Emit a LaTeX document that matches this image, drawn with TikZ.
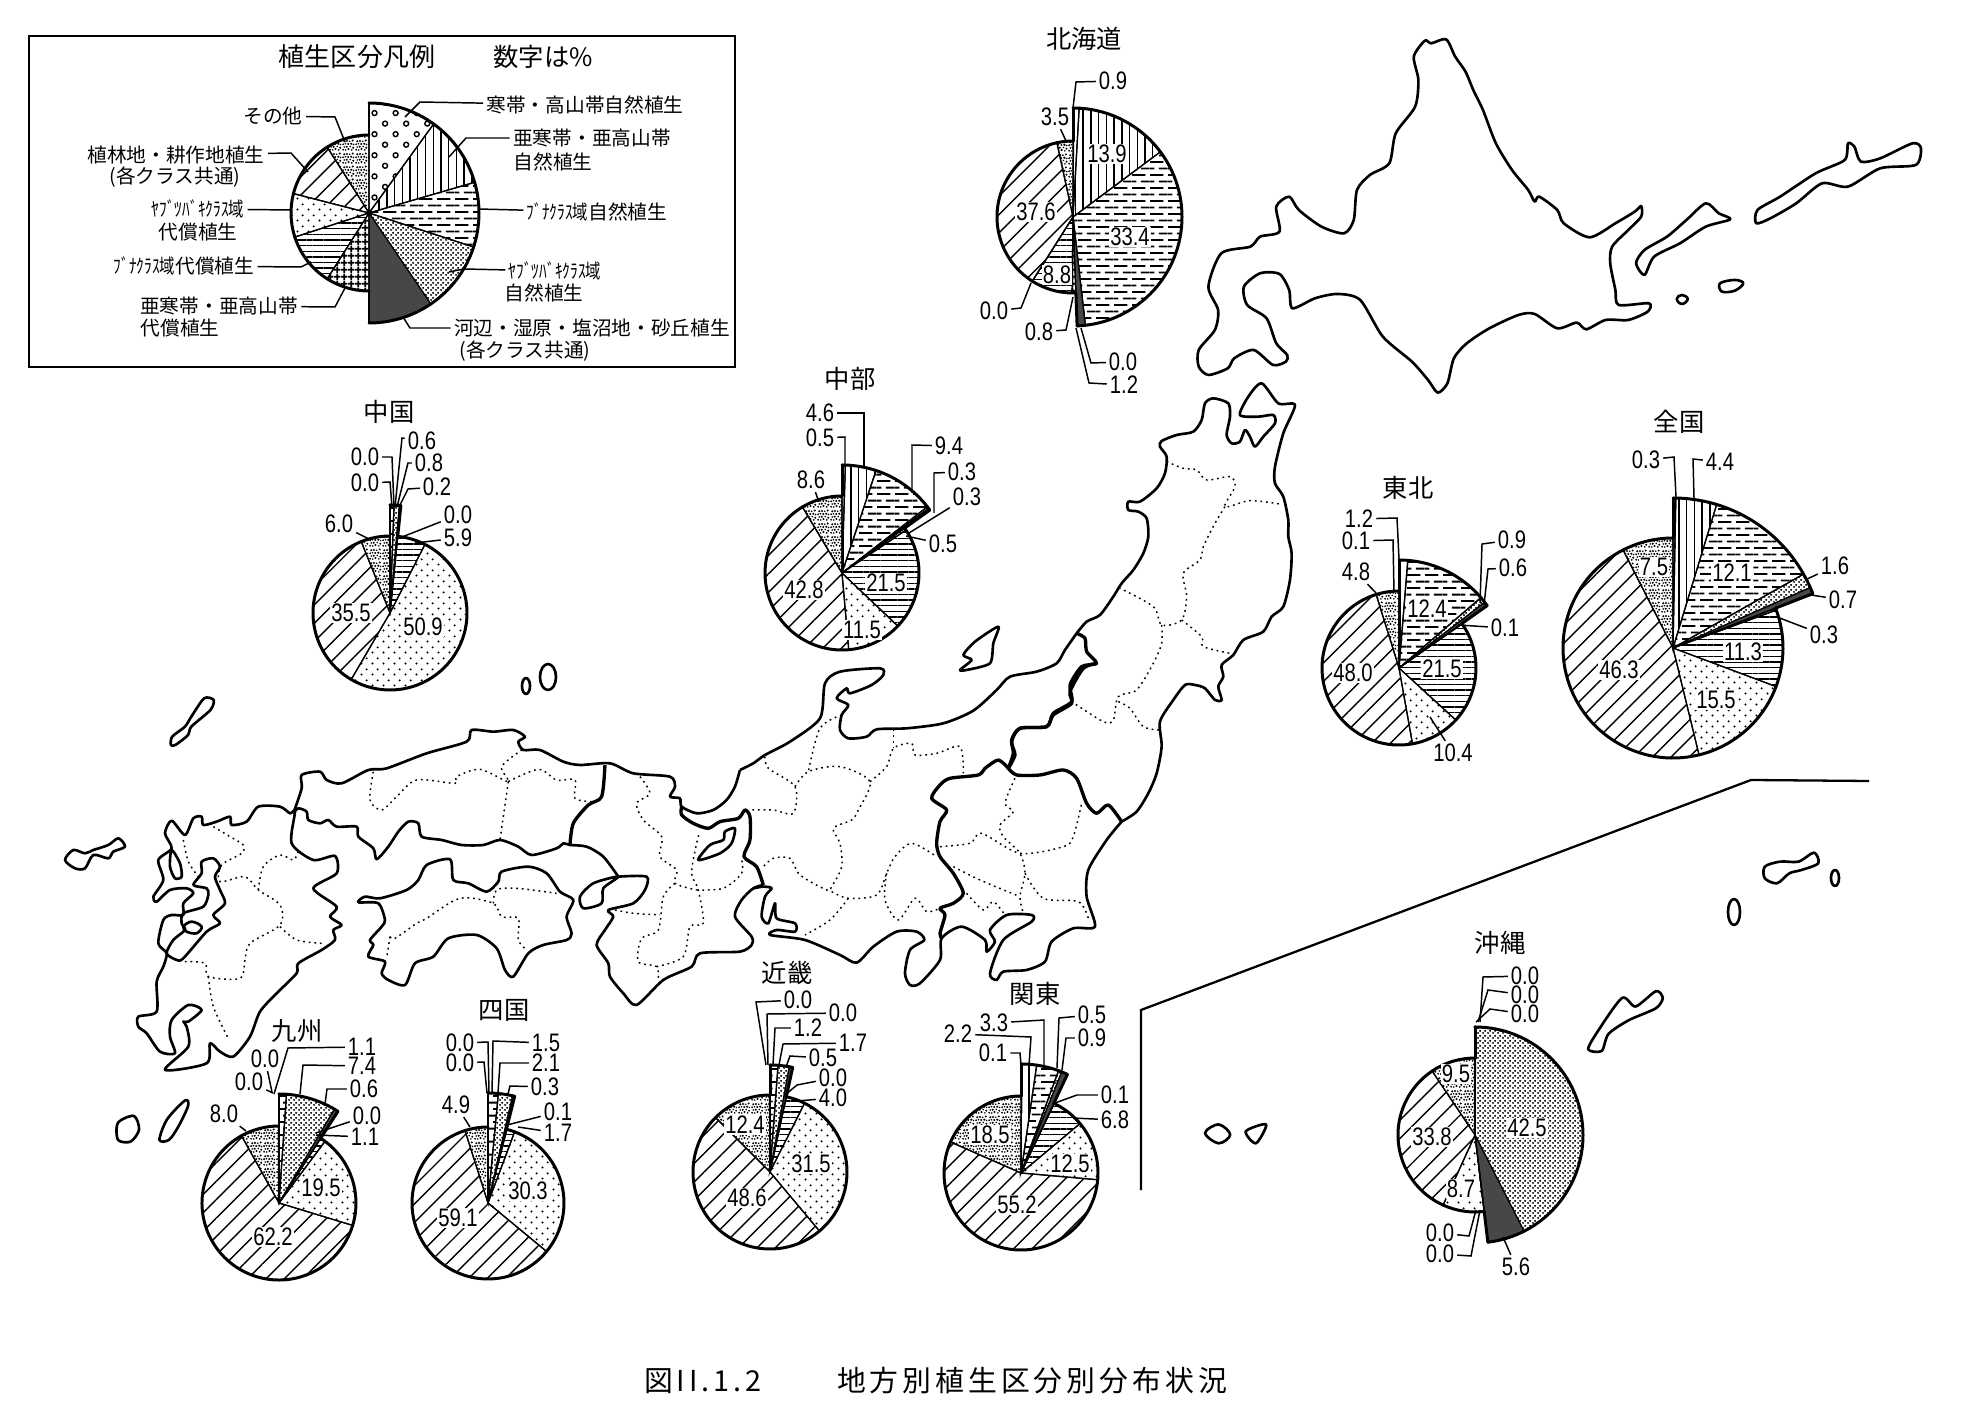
\documentclass[tikz,border=0pt]{standalone}
\usepackage{fontspec}
\setmainfont{Noto Sans CJK JP}
\newfontfamily\numfont[FakeStretch=0.8]{Liberation Sans}
\newfontfamily\capfont[LetterSpace=13.8]{Noto Sans CJK JP}
\newfontfamily\kana[FakeStretch=0.78]{Noto Sans CJK JP}
\usetikzlibrary{patterns,patterns.meta}

\pgfdeclarepatternformonly{vegrings}{\pgfqpoint{-1pt}{-1pt}}{\pgfqpoint{7pt}{7pt}}{\pgfqpoint{6pt}{6pt}}{
    \pgfsetlinewidth{.4pt}
    \pgfpathcircle{\pgfqpoint{1.5pt}{1.5pt}}{.7pt}
    \pgfpathcircle{\pgfqpoint{4.5pt}{4.5pt}}{.7pt}
    \pgfusepath{stroke}}
\pgfdeclarepatternformonly{vegdash}{\pgfqpoint{0pt}{0pt}}{\pgfqpoint{5.2pt}{3.8pt}}{\pgfqpoint{5.2pt}{3.8pt}}{
    \pgfsetlinewidth{.55pt}
    \pgfpathmoveto{\pgfqpoint{0pt}{.9pt}}\pgfpathlineto{\pgfqpoint{3.9pt}{.9pt}}
    \pgfpathmoveto{\pgfqpoint{2.6pt}{2.8pt}}\pgfpathlineto{\pgfqpoint{5.2pt}{2.8pt}}
    \pgfpathmoveto{\pgfqpoint{0pt}{2.8pt}}\pgfpathlineto{\pgfqpoint{1.3pt}{2.8pt}}
    \pgfusepath{stroke}}
\pgfdeclarepatternformonly{vegfine}{\pgfqpoint{0pt}{0pt}}{\pgfqpoint{1.3pt}{1.3pt}}{\pgfqpoint{1.3pt}{1.3pt}}{
    \pgfpathcircle{\pgfqpoint{.32pt}{.32pt}}{.33pt}
    \pgfpathcircle{\pgfqpoint{.97pt}{.97pt}}{.33pt}
    \pgfusepath{fill}}
\pgfdeclarepatternformonly{veggrid}{\pgfqpoint{0pt}{0pt}}{\pgfqpoint{1.9pt}{1.9pt}}{\pgfqpoint{1.9pt}{1.9pt}}{
    \pgfsetlinewidth{.55pt}
    \pgfpathmoveto{\pgfqpoint{0pt}{.95pt}}\pgfpathlineto{\pgfqpoint{1.9pt}{.95pt}}
    \pgfpathmoveto{\pgfqpoint{.95pt}{0pt}}\pgfpathlineto{\pgfqpoint{.95pt}{1.9pt}}
    \pgfusepath{stroke}}
\pgfdeclarepatternformonly{vegdots}{\pgfqpoint{0pt}{0pt}}{\pgfqpoint{3pt}{3pt}}{\pgfqpoint{3pt}{3pt}}{
    \pgfpathcircle{\pgfqpoint{.75pt}{.75pt}}{.33pt}
    \pgfpathcircle{\pgfqpoint{2.25pt}{2.25pt}}{.33pt}
    \pgfusepath{fill}}
\pgfdeclarepatternformonly{vegstone}{\pgfqpoint{0pt}{0pt}}{\pgfqpoint{3.75pt}{3.75pt}}{\pgfqpoint{3.75pt}{3.75pt}}{
    \pgftransformscale{.75}
    \pgfpathcircle{\pgfqpoint{.45pt}{.5pt}}{.42pt}
    \pgfpathcircle{\pgfqpoint{1.5pt}{.4pt}}{.34pt}
    \pgfpathcircle{\pgfqpoint{2.6pt}{.8pt}}{.48pt}
    \pgfpathcircle{\pgfqpoint{3.9pt}{.45pt}}{.36pt}
    \pgfpathcircle{\pgfqpoint{4.5pt}{1.3pt}}{.42pt}
    \pgfpathcircle{\pgfqpoint{.9pt}{1.6pt}}{.38pt}
    \pgfpathcircle{\pgfqpoint{1.9pt}{1.7pt}}{.46pt}
    \pgfpathcircle{\pgfqpoint{3.3pt}{1.8pt}}{.34pt}
    \pgfpathcircle{\pgfqpoint{.45pt}{2.7pt}}{.44pt}
    \pgfpathcircle{\pgfqpoint{1.4pt}{2.9pt}}{.34pt}
    \pgfpathcircle{\pgfqpoint{2.5pt}{2.8pt}}{.42pt}
    \pgfpathcircle{\pgfqpoint{3.7pt}{2.9pt}}{.48pt}
    \pgfpathcircle{\pgfqpoint{4.6pt}{2.6pt}}{.32pt}
    \pgfpathcircle{\pgfqpoint{.9pt}{3.9pt}}{.42pt}
    \pgfpathcircle{\pgfqpoint{2pt}{4pt}}{.48pt}
    \pgfpathcircle{\pgfqpoint{3.1pt}{3.9pt}}{.36pt}
    \pgfpathcircle{\pgfqpoint{4.3pt}{4.2pt}}{.42pt}
    \pgfusepath{fill}}

\tikzset{
    veg1/.style={pattern=vegrings},
    veg2/.style={pattern={Lines[angle=90,distance=2.2pt,line width=.4pt]}},
    veg3/.style={pattern=vegdash},
    veg4/.style={pattern=vegfine},
    veg5/.style={fill=black!72},
    veg6/.style={pattern=veggrid},
    veg7/.style={pattern={Lines[angle=0,distance=1.6pt,line width=.4pt]}},
    veg8/.style={pattern=vegdots},
    veg9/.style={pattern={Lines[angle=45,distance=3.7pt,line width=.4pt]}},
    veg10/.style={pattern=vegstone},
    spoke/.style={line width=.35pt},
    rim/.style={line width=.85pt, line cap=round, line join=round},
    num/.style={font=\numfont\fontsize{7.2}{8}\selectfont, inner sep=.7pt},
    numin/.style={num, fill=white, inner sep=.3pt},
    lead/.style={line width=.42pt},
    area/.style={font=\fontsize{7.2}{8}\selectfont, inner sep=.5pt},
    key/.style={font=\fontsize{5.6}{6}\selectfont, inner sep=.8pt},
    coast/.style={line width=.75pt, line join=round},
    bound/.style={line width=.95pt, line join=round},
    pref/.style={line width=.42pt, dash pattern=on .5pt off 1.1pt},
}

\newcommand{\vegpie}[5]{
    \begin{scope}[shift={(#2)}]
        \coordinate (#1) at (0,0);
        \foreach \v [count=\i, evaluate=\v as \e using \s+3.6*\v, remember=\e as \s (initially 0)] in {#5}{
            \pgfmathsetmacro\rad{\i<6 ? #4 : #3}
            \draw[spoke, veg\i] (#1) -- (\s-90:\rad) arc[start angle=\s-90, end angle=\e-90, radius=\rad] -- cycle;
            \draw[rim] (\s-90:\rad) arc[start angle=\s-90, end angle=\e-90, radius=\rad];
            \ifnum\i=5 \draw[rim] (\e-90:#3) -- (\e-90:#4); \fi
            \ifnum\i=10 \draw[rim] (-90:#3) -- (-90:#4); \fi
        }
    \end{scope}
}
\newcommand{\numlab}[4]{
    \node[num] (#1) at (#2) {#3};
    \coordinate (#1e) at (#4);
    \draw[lead] (#1) -- (#1e);
}
\newcommand{\numbend}[5]{
    \node[num] (#1) at (#2) {#3};
    \coordinate (#1e) at (#5);
    \draw[lead] (#1) -- (#4) -- (#1e);
}
\newcommand{\keylab}[5]{
    \node[key] (#1) at (#2) {#3};
    \coordinate (#1e) at (#5);
    \draw[lead] (#1) -- (#4) -- (#1e);
}

\begin{document}
\begin{tikzpicture}[x=0.01cm, y=0.01cm, yscale=-1]
    \path[use as bounding box, fill=white] (0,0) rectangle (1963,1416);

    \begin{scope}[shift={(950,0)}, xscale=0.646, yscale=0.3333]
        \draw[coast] plot[smooth cycle, tension=.45] coordinates {(735,122) (745,130) (768,118) (782,170) (798,215) (810,270) (825,330) (845,430) (870,510) (895,570) (905,605) (912,590) (940,630) (950,670) (990,712) (1030,670) (1060,635) (1070,618) (1070,650) (1050,690) (1025,740) (1022,790) (1030,870) (1035,915) (1082,910) (1080,935) (1050,960) (1015,960) (985,988) (970,968) (940,985) (905,942) (880,945) (835,985) (800,1030) (780,1075) (770,1150) (755,1178) (740,1140) (715,1085) (670,1010) (635,900) (600,882) (565,895) (530,925) (525,870) (510,822) (480,820) (455,860) (460,915) (490,955) (505,1030) (522,1065) (520,1085) (500,1095) (470,1050) (440,1075) (430,1105) (400,1125) (385,1100) (385,1050) (410,990) (415,930) (400,860) (420,760) (465,740) (480,710) (510,695) (505,620) (525,590) (540,630) (575,680) (610,700) (625,660) (630,570) (650,525) (680,490) (690,400) (720,320) (725,240) (718,170)};
        \draw[coast] plot[smooth cycle, tension=.45] coordinates {(1075,825) (1062,790) (1075,750) (1110,710) (1140,660) (1170,610) (1190,640) (1208,658) (1170,680) (1130,730) (1090,770)};
        \draw[coast] plot[smooth cycle, tension=.45] coordinates {(1248,670) (1250,630) (1285,590) (1340,520) (1385,480) (1390,430) (1400,440) (1410,485) (1440,475) (1490,430) (1503,445) (1495,495) (1440,505) (1390,560) (1350,550) (1310,610) (1270,655)};
        \draw[coast] plot[smooth cycle, tension=.6] coordinates {(1192,850) (1215,840) (1228,850) (1215,872) (1195,875)};
        \draw[coast] plot[smooth cycle, tension=.8] coordinates {(1133,885) (1142,897) (1133,912) (1125,897)};
    \end{scope}

    \begin{scope}[shift={(900,380)}, scale=0.3333]
        \draw[coast] plot[smooth, tension=.45] coordinates {(530,760) (560,725) (600,705) (640,650) (665,610) (700,570) (730,520) (745,470) (740,415) (715,395) (685,390) (685,365) (720,365) (770,325) (795,280) (800,230) (780,200) (785,183) (830,165) (880,155) (905,120) (915,70) (940,55) (985,70) (990,110) (980,165) (995,190) (1020,185) (1035,150) (1050,170) (1065,200) (1090,170) (1125,130) (1120,105) (1075,110) (1020,105) (1045,50) (1085,10) (1135,70) (1185,75) (1150,160) (1125,260) (1125,310) (1150,350) (1165,420) (1165,470) (1175,520) (1170,600) (1150,680) (1115,710) (1090,755) (1030,780) (1000,825) (965,855) (970,890) (955,920) (965,960) (945,960) (915,925) (885,915) (855,915) (820,960) (780,1025) (785,1100) (770,1180) (745,1240) (710,1295) (665,1325)};
        \draw[bound] plot[smooth, tension=.45] coordinates {(530,760) (555,775) (560,815) (590,850) (545,860) (510,915) (515,965) (460,1000) (440,1040) (360,1045) (335,1085) (345,1125) (325,1165)};
        \draw[coast] plot[smooth cycle, tension=.4] coordinates {(180,870) (215,840) (190,825) (225,785) (295,740) (280,790) (270,850) (200,870)};
        \draw[pref] plot[smooth, tension=.5] coordinates {(800,245) (850,265) (890,270) (920,300) (990,290) (1005,320) (975,380) (1050,362) (1140,372)};
        \draw[pref] plot[smooth, tension=.5] coordinates {(975,380) (945,430) (910,500) (900,540) (850,580) (860,650) (845,720) (785,735) (760,680) (660,625)};
        \draw[pref] plot[smooth, tension=.5] coordinates {(845,720) (905,770) (910,800) (990,820)};
        \draw[pref] plot[smooth, tension=.5] coordinates {(785,735) (785,790) (760,850) (710,930) (655,950) (640,1020) (610,1025) (515,965)};
        \draw[pref] plot[smooth, tension=.5] coordinates {(655,965) (690,985) (730,1040) (780,1050)};
    \end{scope}

    \begin{scope}[shift={(740,640)}, scale=0.3333]
        \draw[coast] plot[smooth, tension=.45] coordinates {(0,390) (40,370) (75,345) (150,305) (240,235) (255,130) (300,95) (420,85) (430,105) (395,135) (330,160) (320,145) (290,175) (325,195) (305,225) (300,270) (325,295) (380,290) (410,268) (500,265) (610,250) (700,212) (770,150) (810,110) (890,95) (950,70) (975,30) (1010,-20)};
        \draw[coast] plot[smooth, tension=.45] coordinates {(1145,545) (1100,600) (1045,690) (1040,770) (1065,860) (1000,865) (935,905) (915,965) (860,990) (790,995) (770,1020) (750,1000) (790,900) (875,845) (875,825) (800,825) (750,870) (765,905) (740,935) (735,900) (665,860) (605,895) (600,960) (540,1030) (510,1035) (495,1000) (510,930) (553,900) (530,875) (470,875) (400,920) (350,968) (300,945) (195,900) (90,885) (110,870) (165,875) (165,850) (110,835) (105,790) (85,850) (65,830) (75,770) (95,745) (70,740) (40,745)};
        \draw[bound] plot[smooth, tension=.45] coordinates {(805,385) (775,360) (735,385) (715,405) (630,415) (600,435) (575,475) (620,510) (600,545) (590,610) (600,650) (640,700) (670,760) (640,790) (600,805) (615,825) (600,880) (605,895)};
        \draw[bound] plot[smooth, tension=.45] coordinates {(805,385) (830,405) (900,405) (970,390) (1010,415) (1040,490) (1070,520) (1105,495) (1145,545)};
        \draw[bound] plot[smooth, tension=.45] coordinates {(805,385) (820,340) (815,300) (840,265) (920,260) (940,225) (995,190) (990,155) (1030,85) (1070,70)};
        \draw[pref] plot[smooth, tension=.5] coordinates {(75,350) (85,385) (165,440) (160,520) (100,510) (35,510)};
        \draw[pref] plot[smooth, tension=.5] coordinates {(165,440) (205,395) (300,380) (390,425) (355,510) (335,540) (280,565) (300,610) (305,680) (275,740) (260,750) (180,705) (150,655) (100,655) (70,680)};
        \draw[pref] plot[smooth, tension=.5] coordinates {(390,425) (440,380) (460,325) (515,310) (525,345) (590,340) (660,320) (670,400)};
        \draw[pref] (460,325) -- (460,270);
        \draw[pref] plot[smooth, tension=.5] coordinates {(305,225) (240,265) (205,395)};
        \draw[pref] plot[smooth, tension=.5] coordinates {(275,755) (325,775) (410,765) (440,700) (465,650) (515,610) (590,650)};
        \draw[pref] plot[smooth, tension=.5] coordinates {(325,775) (270,840) (195,885)};
        \draw[pref] plot[smooth, tension=.5] coordinates {(440,700) (435,780) (475,840) (525,775) (560,815) (600,805)};
        \draw[pref] plot[smooth, tension=.5] coordinates {(600,620) (690,610) (725,580) (840,640) (970,620) (1000,590) (1025,490)};
        \draw[pref] plot[smooth, tension=.5] coordinates {(825,415) (795,490) (820,515) (780,555) (790,590) (840,640) (855,700) (840,770) (850,820)};
        \draw[pref] plot[smooth, tension=.5] coordinates {(640,680) (720,720) (840,770)};
        \draw[pref] plot[smooth, tension=.5] coordinates {(680,760) (730,810) (760,785) (795,825)};
        \draw[pref] plot[smooth, tension=.5] coordinates {(855,700) (910,775) (1015,785) (1045,835)};
    \end{scope}

    \begin{scope}[shift={(280,700)}, scale=0.3333]
        \draw[coast] plot[smooth, tension=.45] coordinates {(40,340) (65,265) (65,225) (120,215) (140,240) (185,250) (265,210) (320,205) (440,160) (560,125) (575,90) (640,95) (700,90) (735,110) (715,125) (730,150) (780,150) (850,185) (900,195) (990,190) (1060,220) (1170,230) (1185,260) (1170,290) (1200,295) (1205,320) (1250,340) (1300,330) (1340,300) (1365,260) (1380,210)};
        \draw[bound] plot[smooth, tension=.45] coordinates {(1205,320) (1205,345) (1240,370) (1285,385) (1320,365) (1375,355) (1395,330) (1410,350) (1410,420) (1392,470) (1430,500) (1450,555)};
        \draw[coast] plot[smooth, tension=.45] coordinates {(1450,555) (1420,565) (1385,600) (1365,650) (1415,710) (1415,735) (1380,755) (1260,760) (1235,800) (1150,840) (1070,915) (1030,880) (990,830) (985,790) (950,735) (975,690) (1000,650) (985,630) (1060,610) (1095,570) (1100,530) (1015,530)};
        \draw[coast] plot[smooth, tension=.45] coordinates {(1015,530) (970,470) (920,440) (870,435) (850,430) (830,445) (755,465) (715,440) (660,420) (610,435) (545,435) (485,420) (425,410) (415,370) (385,365) (355,395) (325,440) (290,478) (280,445) (235,410) (230,380) (170,380) (145,360) (120,370) (85,360) (80,335) (55,325) (40,340)};
        \draw[bound] plot[smooth, tension=.45] coordinates {(975,195) (965,290) (925,315) (880,370) (870,435)};
        \draw[coast] plot[smooth cycle, tension=.45] coordinates {(235,607) (255,590) (300,595) (380,570) (415,540) (440,495) (510,478) (520,540) (565,550) (620,575) (655,545) (665,515) (745,500) (800,520) (840,575) (880,600) (860,650) (875,700) (860,720) (790,735) (745,760) (700,830) (675,810) (650,745) (590,705) (505,715) (460,770) (405,790) (375,855) (325,840) (305,820) (315,785) (265,770) (280,735) (270,720) (305,680) (315,660) (295,610)};
        \draw[coast] plot[smooth cycle, tension=.45] coordinates {(900,590) (940,550) (1015,530) (970,565) (965,610) (910,625)};
        \draw[coast] plot[smooth cycle, tension=.45] coordinates {(1255,480) (1290,435) (1330,420) (1335,395) (1365,385) (1355,430) (1320,460)};
        \draw[pref] plot[smooth, tension=.5] coordinates {(280,215) (270,300) (305,330) (350,290) (410,240) (525,250) (530,230) (600,208) (685,245) (665,200) (725,150)};
        \draw[pref] plot[smooth, tension=.5] coordinates {(685,245) (775,208) (830,240) (885,240) (885,295) (935,305)};
        \draw[pref] plot[smooth, tension=.5] coordinates {(685,245) (660,420)};
        \draw[pref] plot[smooth, tension=.5] coordinates {(1080,230) (1110,280) (1070,310) (1090,360) (1145,410) (1140,470) (1190,510) (1185,550) (1250,570)};
        \draw[pref] plot[smooth, tension=.5] coordinates {(1185,550) (1150,590) (1135,690) (1085,715) (1075,785) (1130,800) (1135,840)};
        \draw[pref] plot[smooth, tension=.5] coordinates {(1130,800) (1210,770) (1230,680) (1270,670) (1255,570) (1235,520) (1250,430) (1260,395)};
        \draw[pref] plot[smooth, tension=.5] coordinates {(1250,570) (1330,565) (1385,520) (1385,480)};
        \draw[pref] plot[smooth, tension=.5] coordinates {(1005,630) (1060,640) (1140,645)};
        \draw[pref] plot[smooth, tension=.5] coordinates {(330,710) (345,715) (410,670) (440,655) (540,595) (640,610) (665,650) (715,655) (715,720) (740,750)};
        \draw[pref] plot[smooth, tension=.5] coordinates {(640,610) (650,570) (710,565) (830,580)};
        \draw[pref] (330,710) -- (320,775);
    \end{scope}

    \begin{scope}[shift={(50,780)}, scale=0.3333]
        \draw[coast] plot[smooth cycle, tension=.45] coordinates {(735,95) (725,190) (790,240) (855,228) (860,280) (790,325) (860,380) (840,410) (875,435) (850,450) (855,480) (815,510) (745,550) (740,580) (680,640) (630,695) (600,770) (550,830) (510,815) (480,790) (470,850) (345,870) (415,800) (410,740) (400,725) (415,725) (455,690) (415,675) (365,720) (360,770) (375,820) (330,815) (290,760) (265,740) (265,710) (320,695) (320,605) (340,560) (350,520) (325,490) (340,420) (365,405) (400,405) (400,370) (430,340) (410,325) (360,330) (320,365) (310,350) (340,300) (325,240) (365,205) (345,160) (365,122) (405,165) (430,115) (455,110) (460,135) (500,125) (540,110) (545,135) (590,125) (625,80) (690,80) (720,100)};
        \draw[coast] plot[smooth cycle, tension=.45] coordinates {(430,315) (455,280) (455,245) (490,235) (510,260) (495,290) (510,330) (525,370) (490,405) (510,430) (470,455) (400,535) (380,540) (350,520) (370,480) (405,450) (395,430) (400,400) (460,380) (475,345) (470,325)};
        \draw[coast] plot[smooth cycle, tension=.45] coordinates {(365,210) (390,250) (395,290) (375,295) (360,260)};
        \draw[coast] plot[smooth cycle, tension=.6] coordinates {(400,440) (425,425) (455,440) (440,460) (410,455)};
        \draw[coast] plot[smooth cycle, tension=.5] coordinates {(45,240) (70,210) (105,220) (130,210) (175,195) (205,175) (225,200) (190,215) (175,235) (130,225) (105,265) (75,265)};
        \draw[pref] plot[smooth, tension=.5] coordinates {(400,180) (415,245) (445,290)};
        \draw[pref] plot[smooth, tension=.5] coordinates {(490,140) (540,170) (580,195) (575,220) (515,255) (510,305) (585,290) (625,330) (690,375) (690,435) (600,490) (585,540) (570,595) (475,590) (465,550) (400,545)};
        \draw[pref] plot[smooth, tension=.5] coordinates {(625,330) (640,260) (690,225) (730,240) (745,215)};
        \draw[pref] plot[smooth, tension=.5] coordinates {(690,440) (740,480) (815,490)};
        \draw[pref] plot[smooth, tension=.5] coordinates {(475,590) (490,680) (535,775)};
    \end{scope}

    \begin{scope}[shift={(0,400)}, xscale=0.6378, yscale=0.3333]
        \draw[coast] plot[smooth cycle, tension=.45] coordinates {(268,1035) (270,1010) (290,980) (300,950) (320,895) (335,900) (330,930) (300,980) (295,1005) (275,1035)};
    \end{scope}
    \draw[coast] (548,677) ellipse[x radius=8, y radius=13];
    \draw[coast] (526,686) ellipse[x radius=4, y radius=8];

    \begin{scope}[shift={(0,880)}, xscale=0.6378, yscale=0.3419]
        \draw[coast] plot[smooth cycle, tension=.5] coordinates {(185,710) (210,690) (218,730) (205,765) (185,760)};
        \draw[coast] plot[smooth cycle, tension=.5] coordinates {(250,760) (262,700) (290,645) (295,660) (280,720) (265,760)};
    \end{scope}

    \draw[line width=.65pt] (1869,781) -- (1751,780) -- (1141,1010) -- (1141,1190);

    \begin{scope}[shift={(1000,400)}, xscale=0.6143, yscale=0.3333]
        \draw[coast] plot[smooth cycle, tension=.5] coordinates {(1245,1400) (1270,1385) (1300,1385) (1325,1358) (1332,1390) (1305,1410) (1285,1420) (1265,1450) (1245,1435)};
    \end{scope}
    \draw[coast] (1835,878) ellipse[x radius=4, y radius=8];
    \draw[coast] (1734,912) ellipse[x radius=6, y radius=13];
    \begin{scope}[shift={(900,880)}, xscale=0.678, yscale=0.3419]
        \draw[coast] plot[smooth cycle, tension=.45] coordinates {(1015,495) (1030,440) (1065,345) (1085,370) (1115,325) (1125,345) (1115,375) (1075,410) (1045,450) (1035,500)};
        \draw[coast] plot[smooth cycle, tension=.6] coordinates {(450,740) (470,715) (487,745) (470,770)};
        \draw[coast] plot[smooth cycle, tension=.5] coordinates {(510,735) (540,715) (525,770)};
    \end{scope}

    \draw[line width=.7pt] (29,36) rectangle (735,367);
    \node[area, font=\fontsize{7.4}{8}\selectfont] (keytitle) at (357,57) {植生区分凡例};
    \node[area, font=\fontsize{7.2}{8}\selectfont] (keyunit) at (543,57) {数字は\%};
    \vegpie{keypie}{369,213}{78}{110}{10,10.5,9.5,10.5,9.5,9,11,9,12,9}
    \keylab{key1}{585,105}{寒帯・高山帯自然植生}{420,102}{405,117}
    \keylab{key2}{592,138}{亜寒帯・亜高山帯}{466,138}{449,157}
    \node[key] (key2b) at (553,162) {自然植生};
    \node[key] (key3) at (597,212) {{\kana ﾌﾞﾅｸﾗｽ域}自然植生};
    \coordinate (key3e) at (478,209);
    \draw[lead] (key3) -- (key3e);
    \keylab{key4}{555,271}{{\kana ﾔﾌﾞﾂﾊﾞｷｸﾗｽ域}}{464,269}{449,272}
    \node[key] (key4b) at (544,293) {自然植生};
    \keylab{key5}{592,328}{河辺・湿原・塩沼地・砂丘植生}{410,328}{403,317}
    \node[key] (key5b) at (525,351) {(各クラス共通)};
    \keylab{key10}{273,116}{その他}{335,117}{345,142}
    \keylab{key9}{176,155}{植林地・耕作地植生}{291,153}{308,172}
    \node[key] (key9b) at (175,177) {(各クラス共通)};
    \node[key] (key8) at (198,209) {{\kana ﾔﾌﾞﾂﾊﾞｷｸﾗｽ域}};
    \coordinate (key8e) at (291,210);
    \draw[lead] (key8) -- (key8e);
    \node[key] (key8b) at (198,232) {代償植生};
    \keylab{key7}{184,266}{{\kana ﾌﾞﾅｸﾗｽ域}代償植生}{301,267}{311,262}
    \keylab{key6}{219,306}{亜寒帯・亜高山帯}{335,307}{345,288}
    \node[key] (key6b) at (180,328) {代償植生};

    \node[area] (hktitle) at (1084,39) {北海道};
    \vegpie{hkpie}{1073,217}{76}{109}{0.9,13.9,33.4,0.0,1.2,0.8,8.8,0.0,37.6,3.5}
    \numbend{hk1}{1113,81}{0.9}{1076,82}{1073,108}
    \numlab{hk10}{1055,117}{3.5}{1066,141}
    \node[numin] (hk2) at (1107,154) {13.9};
    \node[numin] (hk3) at (1130,237) {33.4};
    \node[numin] (hk9) at (1036,212) {37.6};
    \node[numin] (hk7) at (1057,275) {8.8};
    \numbend{hk8}{994,311}{0.0}{1021,308}{1031,283}
    \numbend{hk6}{1039,332}{0.8}{1066,330}{1073,297}
    \numbend{hk4}{1123,362}{0.0}{1091,363}{1081,328}
    \numbend{hk5}{1124,385}{1.2}{1089,383}{1076,328}

    \node[area] (zktitle) at (1679,422) {全国};
    \vegpie{zkpie}{1673,648}{110}{150}{0.3,4.4,12.1,1.6,0.7,0.3,11.3,15.5,46.3,7.5}
    \numbend{zk1}{1646,460}{0.3}{1674,457}{1676,497}
    \numbend{zk2}{1720,462}{4.4}{1693,459}{1694,498}
    \node[numin] (zk3) at (1732,573) {12.1};
    \node[numin] (zk10) at (1654,567) {7.5};
    \node[numin] (zk9) at (1619,670) {46.3};
    \node[numin] (zk7) at (1743,652) {11.3};
    \node[numin] (zk8) at (1716,700) {15.5};
    \numlab{zk4}{1835,566}{1.6}{1805,580}
    \numlab{zk5}{1843,600}{0.7}{1811,595}
    \numlab{zk6}{1824,635}{0.3}{1777,617}

    \node[area] (thtitle) at (1408,488) {東北};
    \vegpie{thpie}{1399,668}{77}{108}{0.1,1.2,12.4,0.9,0.6,0.1,21.5,10.4,48.0,4.8}
    \numbend{th2}{1359,519}{1.2}{1397,518}{1399,559}
    \numbend{th1}{1356,541}{0.1}{1393,540}{1394,592}
    \numlab{th10}{1356,572}{4.8}{1376,593}
    \node[numin] (th3) at (1427,609) {12.4};
    \numbend{th4}{1512,540}{0.9}{1482,544}{1480,603}
    \numbend{th5}{1513,568}{0.6}{1488,569}{1484,605}
    \numlab{th6}{1505,628}{0.1}{1458,625}
    \node[numin] (th7) at (1442,669) {21.5};
    \node[numin] (th9) at (1353,673) {48.0};
    \numlab{th8}{1453,753}{10.4}{1430,717}

    \node[area] (cbtitle) at (850,379) {中部};
    \vegpie{cbpie}{842,573}{77}{108}{0.5,4.6,9.4,0.3,0.3,0.5,21.5,11.5,42.8,8.6}
    \numbend{cb2}{820,413}{4.6}{864,413}{864,468}
    \numbend{cb1}{820,438}{0.5}{845,437}{845,467}
    \numlab{cb10}{811,480}{8.6}{819,502}
    \numbend{cb3}{949,446}{9.4}{912,445}{912,493}
    \numbend{cb4}{962,472}{0.3}{934,473}{934,513}
    \numlab{cb5}{967,497}{0.3}{909,533}
    \numlab{cb6}{943,544}{0.5}{906,536}
    \node[numin] (cb7) at (886,583) {21.5};
    \node[numin] (cb8) at (862,630) {11.5};
    \node[numin] (cb9) at (804,590) {42.8};

    \node[area] (cgtitle) at (389,412) {中国};
    \vegpie{cgpie}{390,613}{77}{108}{0.0,0.0,0.6,0.8,0.2,0.0,5.9,50.9,35.5,6.0}
    \numbend{cg3}{422,441}{0.6}{402,438}{395,507}
    \numbend{cg4}{429,463}{0.8}{408,463}{397,507}
    \numbend{cg5}{437,487}{0.2}{408,489}{399,507}
    \numbend{cg2}{365,457}{0.0}{392,457}{394,507}
    \numbend{cg1}{365,483}{0.0}{390,482}{392,507}
    \numlab{cg6}{458,515}{0.0}{402,537}
    \numlab{cg7}{458,538}{5.9}{415,543}
    \numlab{cg10}{339,524}{6.0}{371,540}
    \node[numin] (cg9) at (351,613) {35.5};
    \node[numin] (cg8) at (423,627) {50.9};

    \node[area] (kstitle) at (297,1031) {九州};
    \vegpie{kspie}{279,1203}{77}{109}{0.0,0.0,1.1,7.4,0.6,0.0,1.1,19.5,62.2,8.0}
    \numbend{ks3}{362,1047}{1.1}{288,1048}{274,1094}
    \numbend{ks4}{362,1066}{7.4}{303,1065}{300,1094}
    \numbend{ks5}{364,1089}{0.6}{327,1089}{325,1104}
    \numlab{ks6}{367,1116}{0.0}{316,1133}
    \numlab{ks7}{365,1137}{1.1}{316,1135}
    \numlab{ks2}{265,1059}{0.0}{272,1092}
    \numlab{ks1}{249,1082}{0.0}{273,1093}
    \numlab{ks10}{224,1114}{8.0}{246,1131}
    \node[numin] (ks8) at (321,1188) {19.5};
    \node[numin] (ks9) at (273,1237) {62.2};

    \node[area] (sktitle) at (504,1010) {四国};
    \vegpie{skpie}{488,1203}{76}{110}{0.0,0.0,1.5,2.1,0.3,0.1,1.7,30.3,59.1,4.9}
    \numbend{sk2}{460,1043}{0.0}{488,1042}{489,1093}
    \numbend{sk1}{460,1063}{0.0}{484,1062}{487,1093}
    \numbend{sk3}{546,1043}{1.5}{493,1041}{492,1093}
    \numbend{sk4}{546,1063}{2.1}{500,1063}{498,1093}
    \numbend{sk5}{545,1087}{0.3}{510,1086}{508,1094}
    \numlab{sk6}{558,1112}{0.1}{507,1125}
    \numlab{sk7}{558,1133}{1.7}{518,1127}
    \numlab{sk10}{456,1105}{4.9}{470,1127}
    \node[numin] (sk8) at (528,1191) {30.3};
    \node[numin] (sk9) at (458,1218) {59.1};

    \node[area] (kktitle) at (787,973) {近畿};
    \vegpie{kkpie}{770,1172}{77}{107}{0.0,0.0,1.2,1.7,0.5,0.0,4.0,31.5,48.6,12.4}
    \numbend{kk1}{798,1000}{0.0}{756,1002}{766,1065}
    \numbend{kk2}{843,1013}{0.0}{767,1014}{768,1065}
    \numbend{kk3}{808,1028}{1.2}{775,1028}{773,1065}
    \numbend{kk4}{853,1043}{1.7}{783,1044}{779,1065}
    \numbend{kk5}{823,1058}{0.5}{790,1056}{786,1067}
    \numbend{kk6}{833,1078}{0.0}{797,1085}{785,1095}
    \numlab{kk7}{833,1098}{4.0}{797,1101}
    \node[numin] (kk10) at (745,1125) {12.4};
    \node[numin] (kk8) at (811,1164) {31.5};
    \node[numin] (kk9) at (747,1198) {48.6};

    \node[area] (kttitle) at (1035,994) {関東};
    \vegpie{ktpie}{1021,1173}{77}{109}{0.1,2.2,3.3,0.5,0.9,0.1,6.8,12.5,55.2,18.5}
    \numbend{kt3}{994,1023}{3.3}{1044,1020}{1044,1067}
    \numbend{kt2}{958,1034}{2.2}{1031,1037}{1029,1065}
    \numbend{kt1}{993,1053}{0.1}{1020,1053}{1021,1065}
    \numbend{kt4}{1092,1015}{0.5}{1059,1018}{1057,1068}
    \numbend{kt5}{1092,1038}{0.9}{1066,1038}{1062,1070}
    \numbend{kt6}{1115,1095}{0.1}{1077,1095}{1055,1103}
    \numlab{kt7}{1115,1120}{6.8}{1073,1118}
    \node[numin] (kt10) at (990,1135) {18.5};
    \node[numin] (kt8) at (1070,1164) {12.5};
    \node[numin] (kt9) at (1017,1205) {55.2};

    \node[area] (oktitle) at (1500,943) {沖縄};
    \vegpie{okpie}{1475,1135}{77}{108}{0.0,0.0,0.0,42.5,5.6,0.0,0.0,8.7,33.8,9.5}
    \numbend{ok1}{1525,976}{0.0}{1483,977}{1480,1022}
    \numbend{ok2}{1525,995}{0.0}{1488,990}{1478,1022}
    \numbend{ok3}{1525,1014}{0.0}{1490,1009}{1476,1022}
    \node[numin] (ok10) at (1456,1074) {9.5};
    \node[numin] (ok4) at (1527,1128) {42.5};
    \node[numin] (ok9) at (1432,1137) {33.8};
    \node[numin] (ok8) at (1461,1189) {8.7};
    \numlab{ok5}{1516,1267}{5.6}{1503,1237}
    \numbend{ok6}{1440,1233}{0.0}{1469,1236}{1476,1210}
    \numbend{ok7}{1440,1254}{0.0}{1471,1256}{1480,1210}

    \node[font=\capfont\fontsize{8.2}{9}\selectfont, inner sep=0pt] (capno) at (703,1381) {図II.1.2};
    \node[font=\capfont\fontsize{8.2}{9}\selectfont, inner sep=0pt] (captext) at (1032,1381) {地方別植生区分別分布状況};
\end{tikzpicture}
\end{document}
